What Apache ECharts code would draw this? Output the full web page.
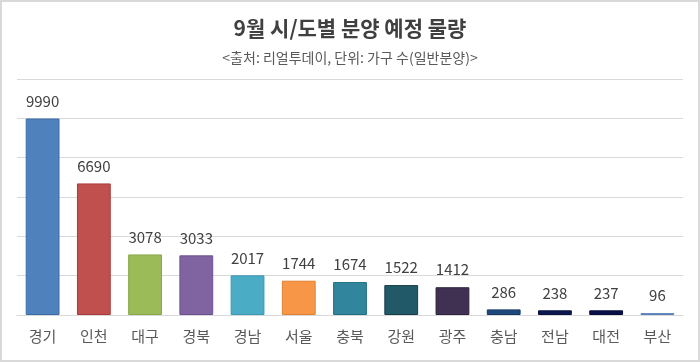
<!DOCTYPE html>
<html><head><meta charset="utf-8">
<script src="https://cdn.jsdelivr.net/npm/echarts@6/dist/echarts.min.js"></script>
<style>
html,body{margin:0;padding:0;background:#fff;}
#c{width:700px;height:362px;box-sizing:border-box;border:2px solid #d9d9d9;}
</style></head><body>
<div id="c"></div>
<script>
const categories = ['경기','인천','대구','경북','경남','서울','충북','강원','광주','충남','전남','대전','부산'];
const values = [9990,6690,3078,3033,2017,1744,1674,1522,1412,286,238,237,96];
const barColors = ['#4F81BD','#C0504D','#9BBB59','#8064A2','#4BACC6','#F79646','#31859C','#215968','#403152','#1F497D','#0C1850','#0A0F48','#6F93CC'];
const borderColors = ['#3B6CA8','#A83C3A','#86A845','#6B5090','#3A98B2','#E08030','#216F85','#163F4B','#2E223D','#163864','#071040','#060A38','#5C80BA'];
const titleText = '9월 시/도별 분양 예정 물량';
const subtitleText = '<출처: 리얼투데이, 단위: 가구 수(일반분양)>';
const yMax = 12000, yInterval = 2000;

const chart = echarts.init(document.getElementById('c'), null, {renderer:'canvas'});
const font = '"Noto Sans CJK KR", "Noto Sans", sans-serif';
chart.setOption({
  animation:false,
  backgroundColor:'#fff',
  title:{
    text:titleText, subtext:subtitleText, left:'center', top:11, itemGap:12,
    textStyle:{fontFamily:font, fontSize:21, fontWeight:'bold', color:'#404040'},
    subtextStyle:{fontFamily:font, fontSize:14, color:'#595959'}
  },
  grid:{left:15, right:15, top:77, bottom:45, containLabel:false},
  xAxis:{
    type:'category', data:categories,
    axisLine:{show:true, lineStyle:{color:'#d9d9d9', width:1}},
    axisTick:{show:false},
    axisLabel:{fontFamily:font, fontSize:15, color:'#595959', margin:14, interval:0}
  },
  yAxis:{
    type:'value', min:0, max:yMax, interval:yInterval,
    axisLabel:{show:false}, axisLine:{show:false}, axisTick:{show:false},
    splitLine:{lineStyle:{color:'#d9d9d9', width:1}}
  },
  series:[{
    type:'bar', barWidth:'66%',
    data:values.map((v,i)=>({value:v, itemStyle:{color:barColors[i], borderColor:borderColors[i], borderWidth:1}})),
    label:{show:true, position:'top', distance:10, fontFamily:font, fontSize:15, color:'#404040'}
  }]
});
</script>
</body></html>
